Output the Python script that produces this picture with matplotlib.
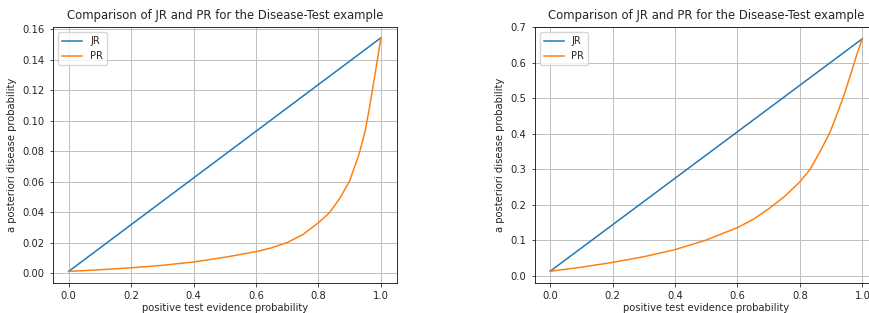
import numpy as np
import matplotlib
matplotlib.use('Agg')
import matplotlib.pyplot as plt

# values
x_left = [0.0, 0.1, 0.2, 0.3, 0.4, 0.5, 0.6, 0.65, 0.7, 0.75, 0.8, 0.835, 0.87, 0.9,
          0.93, 0.95, 0.965, 0.98, 0.99, 1.0]
pr_left = [0.001, 0.0021, 0.0034, 0.0050, 0.0072, 0.0103, 0.0140, 0.0165, 0.0200, 0.0252,
           0.0330, 0.0395, 0.0495, 0.0605, 0.078, 0.0935, 0.1105, 0.129, 0.1415, 0.1545]
jr_left = [0.001, 0.1545]

x_right = [0.0, 0.1, 0.2, 0.3, 0.4, 0.5, 0.6, 0.65, 0.7, 0.75, 0.8, 0.833, 0.865, 0.897,
           0.919, 0.94, 0.962, 0.983, 1.0]
pr_right = [0.012, 0.0235, 0.037, 0.053, 0.073, 0.100, 0.135, 0.158, 0.188, 0.222, 0.264,
            0.300, 0.350, 0.405, 0.455, 0.505, 0.565, 0.625, 0.667]
jr_right = [0.012, 0.667]

TITLE = 'Comparison of JR and PR for the Disease-Test example'
S = 0.72  # overall scale of the picture

plt.rcParams['font.size'] = 10 * S
plt.rcParams['axes.linewidth'] = 0.8 * S
plt.rcParams['text.color'] = '#262626'
plt.rcParams['axes.labelcolor'] = '#262626'
plt.rcParams['xtick.color'] = '#262626'
plt.rcParams['ytick.color'] = '#262626'

fig = plt.figure(figsize=(8.69, 3.13), dpi=100)
ax1 = fig.add_axes([53 / 869, 30 / 313, 343.5 / 869, 256 / 313])
ax2 = fig.add_axes([534.5 / 869, 30 / 313, 343.5 / 869, 256 / 313])

for ax, xs, pr, jr, yt in [
    (ax1, x_left, pr_left, jr_left, np.arange(0, 0.161, 0.02)),
    (ax2, x_right, pr_right, jr_right, np.arange(0, 0.71, 0.1)),
]:
    ax.plot([xs[0], xs[-1]], jr, label='JR', lw=1.5 * S, color='#1f77b4')
    ax.plot(xs, pr, label='PR', lw=1.5 * S, color='#ff7f0e')
    ax.set_yticks(yt)
    ax.grid(True, color='#c0c0c0', lw=1.0 * S)
    ax.tick_params(length=3.5 * S, width=0.8 * S, labelsize=10 * S)
    ax.set_xlabel('positive test evidence probability', fontsize=10 * S, labelpad=1)
    ax.set_ylabel('a posteriori disease probability', fontsize=10 * S)
    ax.set_title(TITLE, fontsize=8.4)
    ax.legend(loc='upper left', fontsize=10 * S)

ax1.set_ylim(-0.0066, 0.1616)
ax1.set_yticklabels(['%.2f' % v for v in np.arange(0, 0.161, 0.02)])
ax2.set_ylim(-0.021, 0.7)
ax2.set_yticklabels(['%.1f' % v for v in np.arange(0, 0.71, 0.1)])

fig.savefig('out.png', dpi=100)
